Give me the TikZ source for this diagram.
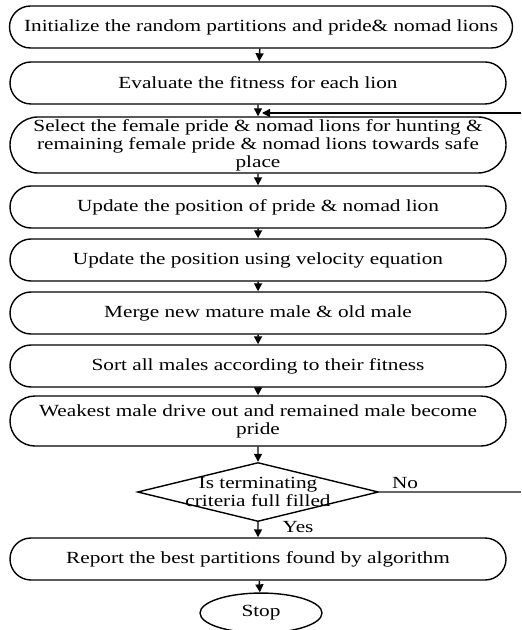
\documentclass[tikz,border=0pt]{standalone}
\usepackage{fontspec}
\setmainfont{Liberation Serif}[FakeStretch=1.25]
\usetikzlibrary{shapes.misc,shapes.geometric,arrows.meta}

\begin{document}
\begin{tikzpicture}[x=0.5pt,y=-0.5pt,
    box/.style={rounded rectangle,draw,line width=0.7pt,minimum width=250pt,
      minimum height=21pt,inner sep=1pt,align=center},
    link/.style={draw,line width=0.7pt,-{Triangle[length=4pt,width=4pt]}},
    font=\fontsize{8.5}{9}\selectfont]
      \useasboundingbox (0,0) rectangle (521,630);
      \begin{scope}[every node/.style={box}]
        \node[minimum width=253.5pt] (1) at (261,27) {Initialize the random partitions and pride\& nomad lions};
        \node (2) at (258,83) {Evaluate the fitness for each lion};
        \node[minimum height=28pt] (3) at (258,145) {Select the female pride \& nomad lions for hunting \&\\remaining female pride \& nomad lions towards safe\\place};
        \node (4) at (258,207) {Update the position of pride \& nomad lion};
        \node (5) at (258,260) {Update the position using velocity equation};
        \node (6) at (258,313) {Merge new mature male \& old male};
        \node (7) at (258,366) {Sort all males according to their fitness};
        \node[minimum height=25pt] (8) at (258,421) {Weakest male drive out and remained male become\\pride};
        \node (10) at (258,559) {Report the best partitions found by algorithm};
      \end{scope}
      \node[diamond,draw,line width=0.7pt,minimum width=120.5pt,minimum height=29.5pt] (9) at (258,492) {};
      \node[align=center] (9t) at (258,492) {Is terminating\\criteria full filled};
      \node[ellipse,draw,line width=0.7pt,minimum width=61pt,minimum height=17pt] (11) at (261,613) {Stop};
      \node (no) at (405,483) {No};
      \node (yes) at (298,527) {Yes};
      \coordinate (r1) at (521,492);
      \coordinate (r2) at (521,113);
      \coordinate (in) at (262,113);
      \begin{scope}[every edge/.style={link}]
        \path (1) edge (2);
        \path (2) edge (3);
        \path (3) edge (4);
        \path (4) edge (5);
        \path (5) edge (6);
        \path (6) edge (7);
        \path (7) edge (8);
        \path (8) edge (9);
        \path (9) edge (10);
        \path (10) edge (11);
        \path (r2) edge (in);
      \end{scope}
      \draw[line width=0.7pt,black!60] (9.east) -- (r1);
    \end{tikzpicture}
\end{document}
